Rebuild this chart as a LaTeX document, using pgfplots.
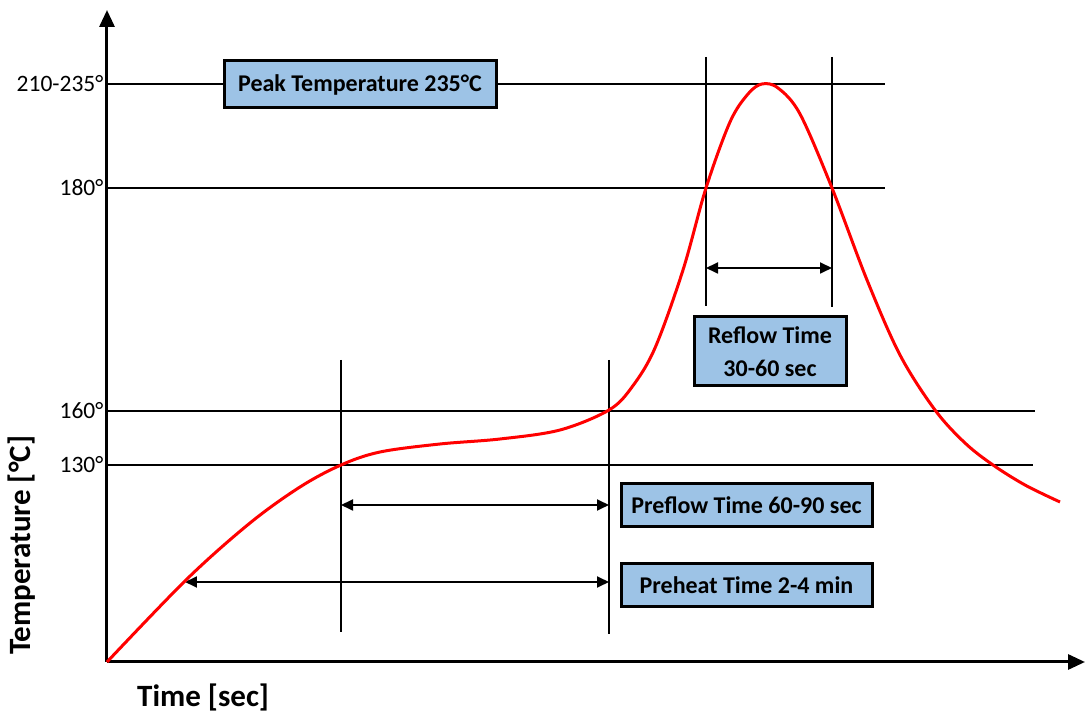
\documentclass[border=0pt]{standalone}
\usepackage{pgfplots}
\pgfplotsset{compat=1.18}
\usepackage{fontspec}
\setmainfont{Carlito}
\usetikzlibrary{arrows.meta}
\definecolor{boxblue}{HTML}{9DC3E6}
\definecolor{curvered}{HTML}{FF0000}

\begin{document}
\begin{tikzpicture}
\tikzset{
  lbl/.style={draw=black, line width=3pt, fill=boxblue, inner sep=0pt,
    font=\fontsize{24}{33}\selectfont\bfseries, align=center},
  span/.style={black, line width=1.8pt,
    {Triangle[length=12pt,width=11pt]}-{Triangle[length=12pt,width=11pt]}}
}
\begin{axis}[
    x=1pt, y=1pt,
    xmin=107, xmax=1085,
    ymin=0, ymax=652,
    axis lines=left,
    axis line style={line width=3pt, -{Triangle[length=17pt,width=15pt]}},
    clip=false,
    xtick=\empty,
    ytick={197,251,474,578},
    yticklabels={130°,160°,180°,210-235°},
    major tick length=0pt,
    yticklabel style={font=\fontsize{23.5}{28}\selectfont, inner sep=3.5pt},
    xlabel={Time [sec]},
    ylabel={Temperature [°C]},
    xlabel style={at={(axis description cs:0.0307,-0.054)}, anchor=west,
      inner sep=0pt, font=\fontsize{31}{36}\selectfont\bfseries},
    ylabel style={at={(axis description cs:-0.087,0.179)}, anchor=center,
      inner sep=0pt, font=\fontsize{31}{36}\selectfont\bfseries},
]
% reference levels
\addplot[black, line width=1.8pt] coordinates {(107,578) (885,578)};
\addplot[black, line width=1.8pt] coordinates {(107,474) (885,474)};
\addplot[black, line width=1.8pt] coordinates {(107,251) (1035,251)};
\addplot[black, line width=1.8pt] coordinates {(107,197) (1033,197)};
% time markers
\addplot[black, line width=1.8pt] coordinates {(341,302) (341,30)};
\addplot[black, line width=1.8pt] coordinates {(609,302) (609,28)};
\addplot[black, line width=1.8pt] coordinates {(706,605) (706,356)};
\addplot[black, line width=1.8pt] coordinates {(832,605) (832,355)};
% spans
\addplot[span] coordinates {(706,394) (832,394)};
\addplot[span] coordinates {(341,157) (609,157)};
\addplot[span] coordinates {(185,80) (609,80)};
% reflow profile
\addplot[curvered, line width=3pt, smooth, tension=0.55] coordinates {
  (107,0) (187,83) (250,139) (300,175) (341,197) (380,210) (440,218)
  (500,223) (560,232) (609,252) (632,275) (655,314) (683,392) (706,474)
  (730,540) (748,568) (762,578) (778,574) (800,548) (832,474) (867,382)
  (900,307) (935,252) (965,219) (993,197) (1025,177) (1060,160)
};
% labels
\node[lbl, minimum width=272pt, minimum height=47pt] at (axis cs:360,577.5) {Peak Temperature 235°C};
\node[lbl, minimum width=152pt, minimum height=69pt] at (axis cs:770,310.5) {Reflow Time\\30-60 sec};
\node[lbl, minimum width=251pt, minimum height=43pt] at (axis cs:746.5,156.5) {Preflow Time 60-90 sec};
\node[lbl, minimum width=251pt, minimum height=43pt] at (axis cs:746.5,76.5) {Preheat Time 2-4 min};
\coordinate (bl) at (axis cs:0,-55);
\coordinate (tr) at (axis cs:1087,662);
\end{axis}
\pgfresetboundingbox
\path (bl) rectangle (tr);
\end{tikzpicture}
\end{document}
